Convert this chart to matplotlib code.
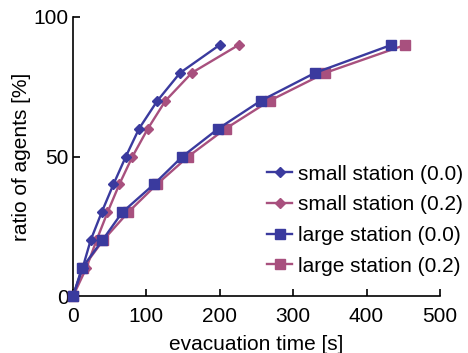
import matplotlib
matplotlib.use("Agg")
import matplotlib.pyplot as plt

plt.rcParams['font.family'] = ['Liberation Sans', 'DejaVu Sans']

# ratio of evacuated agents [%]
ratio = [0, 10, 20, 30, 40, 50, 60, 70, 80, 90]

# evacuation times [s]
small_00 = [0, 13, 24, 39, 55, 72, 90, 115, 146, 200]
small_02 = [0, 18, 32, 47, 63, 81, 102, 126, 162, 226]
large_00 = [0, 12, 40, 67, 110, 149, 198, 256, 330, 434]
large_02 = [0, 13, 41, 75, 114, 157, 208, 268, 344, 453]

azul = '#3a3a9e'
rosa = '#a8507e'

fig = plt.figure(figsize=(4.68, 3.53), dpi=100)
ax = fig.add_axes([0.156, 0.161, 0.784, 0.791])

ax.plot(small_00, ratio, color=azul, lw=1.7, marker='D', ms=5.5, label='small station (0.0)', clip_on=False, zorder=4)
ax.plot(small_02, ratio, color=rosa, lw=1.7, marker='D', ms=5.5, label='small station (0.2)', clip_on=False, zorder=3)
ax.plot(large_00, ratio, color=azul, lw=1.7, marker='s', ms=7.5, label='large station (0.0)', clip_on=False, zorder=4)
ax.plot(large_02, ratio, color=rosa, lw=1.7, marker='s', ms=7.5, label='large station (0.2)', clip_on=False, zorder=3)

ax.set_xlim(0, 500)
ax.set_ylim(0, 100)
ax.set_xticks([0, 100, 200, 300, 400, 500])
ax.set_yticks([0, 50, 100])
ax.spines['top'].set_visible(False)
ax.spines['right'].set_visible(False)
ax.spines['left'].set_linewidth(1.2)
ax.spines['bottom'].set_linewidth(1.2)
ax.tick_params(direction='in', length=5, width=1.2, labelsize=15)
ax.tick_params(axis='x', pad=8)
ax.tick_params(axis='y', pad=3)

ax.set_xlabel('evacuation time [s]', fontsize=15, labelpad=6)
ax.set_ylabel('ratio of agents [%]', fontsize=15, labelpad=2)

ax.legend(loc='lower right', bbox_to_anchor=(1.087, 0.044), frameon=False, fontsize=15,
          handlelength=1.2, handletextpad=0.3, labelspacing=0.56, borderaxespad=0.0)

fig.savefig('out.png', dpi=100)
